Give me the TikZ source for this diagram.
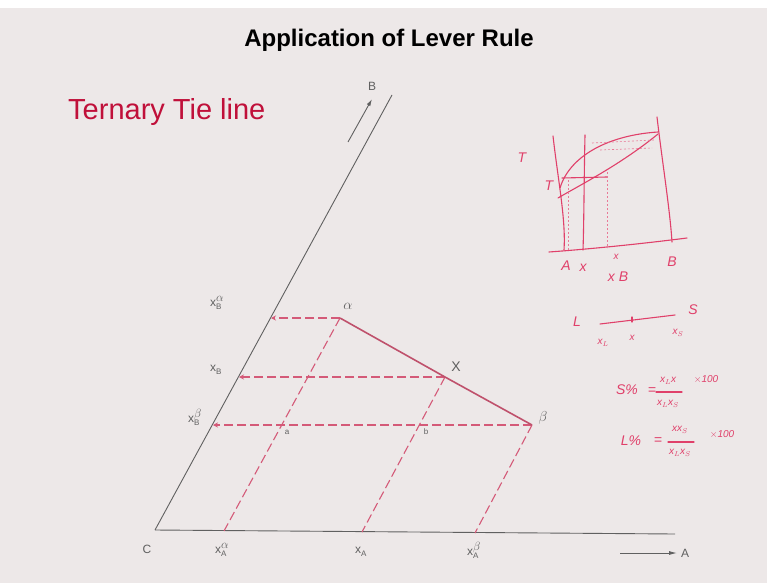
\documentclass[tikz,border=0pt]{standalone}
\usepackage{fontspec}
\setmainfont{Liberation Sans}
\setsansfont{Liberation Sans}
\usetikzlibrary{arrows.meta}
\definecolor{bg}{HTML}{EDE8E8}
\definecolor{axisgray}{HTML}{606060}
\definecolor{tred}{HTML}{C0103A}
\definecolor{dred}{HTML}{D45A78}
\definecolor{hred}{HTML}{E0406A}
\newcommand{\subsup}[3]{#1\hbox to 0pt{\raisebox{5pt}{\fontsize{12}{12}\selectfont$#3$}\hss}\raisebox{-3pt}{\fontsize{8}{8}\selectfont #2}}
\tikzset{
  axis/.style={draw=axisgray, line width=0.9pt},
  projline/.style={draw=dred, line width=1.1pt, dash pattern=on 9pt off 4pt},
  tieline/.style={draw=dred!90!black, line width=1.6pt},
  lbl/.style={text=axisgray, font=\fontsize{12}{13}\selectfont, inner sep=0pt},
  glbl/.style={text=axisgray, font=\fontsize{15}{16}\selectfont, inner sep=0pt},
  hand/.style={draw=hred, line width=1.1pt, line cap=round},
  handdot/.style={draw=hred!70, line width=0.6pt, dash pattern=on 2pt off 2pt},
  htxt/.style={text=hred, font=\itshape\fontsize{14}{15}\selectfont, inner sep=0pt},
  htxts/.style={text=hred, font=\itshape\fontsize{10}{11}\selectfont, inner sep=0pt},
}
\begin{document}
\begin{tikzpicture}[x=1pt,y=-1pt]
\useasboundingbox (0,0) rectangle (767,583);
\fill[bg] (0,8) rectangle (767,583);
\fill[white] (0,0) rectangle (767,8);
% titles
\node[font=\bfseries\fontsize{24}{28}\selectfont, text=black] (title) at (389,40) {Application of Lever Rule};
\node[font=\fontsize{29}{32}\selectfont, text=tred, anchor=west, inner sep=0pt] (sub) at (68,112) {Ternary Tie line};
% axes
\coordinate (C) at (155,530);
\coordinate (Btop) at (392,95);
\coordinate (Aend) at (675,534);
\draw[axis] (C) -- (Btop);
\draw[axis] (C) -- (Aend);
\coordinate (bs) at (348,142);
\coordinate (be) at (372,99);
\draw[axisgray, line width=0.9pt, -{Latex[length=7pt,width=4pt]}] (bs) -- (be);
\coordinate (as) at (620,553);
\coordinate (ae) at (677,553);
\draw[axisgray, line width=0.9pt, -{Latex[length=8pt,width=4pt]}] (as) -- (ae);
\node[lbl] (Blbl) at (372,86) {B};
\node[lbl] (Clbl) at (147,549) {C};
\node[lbl] (Albl) at (685,553) {A};
% points
\coordinate (al) at (340,318);
\coordinate (X) at (445,377);
\coordinate (be2) at (532,425);
\coordinate (xba) at (271,318);
\coordinate (xbx) at (239,377);
\coordinate (xbb) at (213,425);
\coordinate (xaa) at (224,531);
\coordinate (xax) at (362,532);
\coordinate (xab) at (475,533);
% projections
\draw[projline, -{Stealth[length=5pt,width=5pt]}] (al) -- (xba);
\draw[projline, -{Stealth[length=5pt,width=5pt]}] (X) -- (xbx);
\draw[projline, -{Stealth[length=5pt,width=5pt]}] (be2) -- (xbb);
\draw[projline] (al) -- (xaa);
\draw[projline] (X) -- (xax);
\draw[projline] (be2) -- (xab);
% tie line
\draw[tieline] (al) -- (X) -- (be2);
% labels
\node[glbl] (lal) at (348,306) {$\alpha$};
\node[lbl, font=\fontsize{14}{15}\selectfont] (lX) at (456,367) {X};
\node[glbl] (lbe) at (543,418) {$\beta$};
\node[lbl, font=\fontsize{8}{9}\selectfont] (la) at (287,432) {a};
\node[lbl, font=\fontsize{8}{9}\selectfont] (lb) at (426,432) {b};
\node[lbl, anchor=west] (lxba) at (210,303) {\subsup{x}{B}{\alpha}};
\node[lbl, anchor=west] (lxb) at (210,370) {\subsup{x}{B}{}};
\node[lbl, anchor=west] (lxbb) at (188,417) {\subsup{x}{B}{\beta}};
\node[lbl, anchor=west] (lxaa) at (215,550) {\subsup{x}{A}{\alpha}};
\node[lbl, anchor=west] (lxa) at (355,552) {\subsup{x}{A}{}};
\node[lbl, anchor=west] (lxab) at (467,550) {\subsup{x}{A}{\beta}};
% handwritten binary diagram
\draw[hand] (553,136) .. controls (558,180) and (566,220) .. (564,250);
\draw[hand] (585,135) .. controls (584,180) and (584,220) .. (583,250);
\draw[hand] (657,117) .. controls (662,160) and (670,210) .. (672,242);
\draw[hand] (549,252) .. controls (590,249) and (640,244) .. (687,238);
\draw[hand] (560,188) .. controls (570,155) and (610,135) .. (658,132);
\draw[hand] (558,198) .. controls (580,185) and (620,165) .. (658,134);
\draw[hand] (562,178) -- (607,177);
\draw[handdot] (568,180) -- (568,250);
\draw[handdot] (607,172) -- (607,248);
\draw[handdot] (592,143) -- (654,140);
\draw[handdot] (600,150) -- (652,148);
\node[htxt] (hT1) at (522,158) {T};
\node[htxt] (hT2) at (549,186) {T};
\node[htxt] (hA) at (566,266) {A};
\node[htxt] (hx1) at (583,268) {x};
\node[htxts] (hx2) at (616,257) {x};
\node[htxt] (hxB) at (618,277) {x B};
\node[htxt] (hB) at (672,262) {B};
% lever
\coordinate (lv1) at (600,324);
\coordinate (lv2) at (675,315);
\draw[hand] (lv1) -- (lv2);
\draw[hand] (632,317) -- (632,322);
\node[htxt] (hL) at (577,322) {L};
\node[htxt] (hS) at (693,310) {S};
\node[htxts] (hxL) at (603,343) {x$_{L}$};
\node[htxts] (hxx) at (632,338) {x};
\node[htxts] (hxS) at (678,333) {x$_{S}$};
% formulae
\node[htxt] (f1) at (627,390) {S\%};
\node[htxt] (f1e) at (652,391) {=};
\node[htxts] (f1n) at (668,381) {x$_{L}$x};
\draw[hand] (656,392) -- (682,392);
\node[htxts] (f1d) at (668,404) {x$_{L}$x$_{S}$};
\node[htxts] (f1m) at (706,379) {$\times$100};
\node[htxt] (f2) at (631,441) {L\%};
\node[htxt] (f2e) at (658,441) {=};
\node[htxts] (f2n) at (680,430) {xx$_{S}$};
\draw[hand] (668,442) -- (694,442);
\node[htxts] (f2d) at (680,453) {x$_{L}$x$_{S}$};
\node[htxts] (f2m) at (722,434) {$\times$100};
\end{tikzpicture}
\end{document}
